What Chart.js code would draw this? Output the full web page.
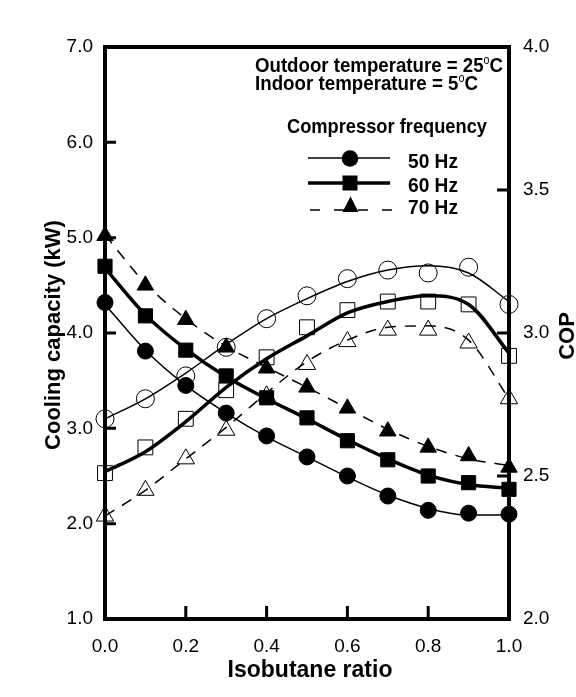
<!DOCTYPE html>
<html>
<head>
<meta charset="utf-8">
<script src="https://cdn.jsdelivr.net/npm/chart.js@4.4.0/dist/chart.umd.min.js"></script>
<style>
html,body{margin:0;padding:0;background:#fff;}
#wrap{width:576px;height:697px;position:relative;}
</style>
</head>
<body>
<div id="wrap"><canvas id="c"></canvas></div>
<script>
// ---- data ----
const ratio = [0.0, 0.1, 0.2, 0.3, 0.4, 0.5, 0.6, 0.7, 0.8, 0.9, 1.0];

// Cooling capacity (kW), measured points (filled markers, left axis)
const cap50 = [4.32, 3.81, 3.45, 3.16, 2.92, 2.70, 2.50, 2.29, 2.14, 2.11, 2.10];
const cap60 = [4.70, 4.18, 3.82, 3.55, 3.32, 3.11, 2.87, 2.67, 2.50, 2.43, 2.36];
const cap70 = [5.02, 4.50, 4.14, 3.85, 3.63, 3.43, 3.21, 2.97, 2.80, 2.71, 2.59];

// COP, measured points (open markers, right axis)
const cop50 = [2.70, 2.77, 2.85, 2.95, 3.05, 3.13, 3.19, 3.22, 3.21, 3.23, 3.10];
const cop60 = [2.51, 2.60, 2.70, 2.80, 2.915, 3.02, 3.08, 3.11, 3.11, 3.10, 2.92];
const cop70 = [2.36, 2.45, 2.56, 2.66, 2.78, 2.89, 2.97, 3.01, 3.01, 2.965, 2.77];

// Fitted curves
const cap50Fit = [4.30, 3.82, 3.45, 3.16, 2.91, 2.70, 2.49, 2.30, 2.16, 2.09, 2.09];
const cap60Fit = [4.68, 4.19, 3.83, 3.54, 3.31, 3.10, 2.88, 2.68, 2.51, 2.41, 2.37];
const cap70Fit = [5.03, 4.52, 4.15, 3.86, 3.64, 3.43, 3.21, 2.99, 2.81, 2.68, 2.61];
const cop50Fit = [2.70, 2.77, 2.86, 2.96, 3.05, 3.12, 3.18, 3.22, 3.235, 3.21, 3.11];
const cop60Fit = [2.515, 2.585, 2.69, 2.81, 2.91, 2.99, 3.07, 3.11, 3.13, 3.10, 2.93];
const cop70Fit = [2.36, 2.45, 2.56, 2.67, 2.79, 2.90, 2.975, 3.02, 3.025, 2.975, 2.77];

const freqLabels = ['50 Hz', '60 Hz', '70 Hz'];
const xTitle = 'Isobutane ratio';
const yTitle = 'Cooling capacity (kW)';
const y2Title = 'COP';

// ---- chart ----
const FONT = 'Liberation Sans, Arial, Helvetica, sans-serif';
const pts = arr => ratio.map((x, i) => ({x: x, y: arr[i]}));

function curve(arr, axis, width, dash) {
  return {data: pts(arr), yAxisID: axis, borderColor: '#000', borderWidth: width,
    borderDash: dash || [], pointRadius: 0, fill: false, cubicInterpolationMode: 'monotone', clip: false};
}
function marks(arr, axis, style, r, filled) {
  return {data: pts(arr), yAxisID: axis, showLine: false, pointStyle: style, pointRadius: r,
    pointBackgroundColor: filled ? '#000' : 'rgba(0,0,0,0)', pointBorderColor: '#000',
    pointBorderWidth: 1, clip: false};
}

const datasets = [
  curve(cap50Fit, 'y', 1.5), curve(cap60Fit, 'y', 3.5), curve(cap70Fit, 'y', 1.5, [11, 9]),
  curve(cop50Fit, 'y2', 1.5), curve(cop60Fit, 'y2', 3.5), curve(cop70Fit, 'y2', 1.5, [11, 9]),
  marks(cop50, 'y2', 'circle', 9, false), marks(cop60, 'y2', 'rect', 10.5, false), marks(cop70, 'y2', 'triangle', 10, false),
  marks(cap50, 'y', 'circle', 8, true), marks(cap60, 'y', 'rect', 10, true), marks(cap70, 'y', 'triangle', 9.5, true)
];

function scaledText(ctx, pieces, x, baseline, targetW) {
  // pieces: [{t, font, dy}]
  let w = 0;
  pieces.forEach(p => { ctx.font = p.font; w += ctx.measureText(p.t).width; });
  const sx = targetW ? targetW / w : 1;
  ctx.save();
  ctx.translate(x, baseline);
  ctx.scale(sx, 1);
  let cx = 0;
  ctx.textAlign = 'left';
  ctx.textBaseline = 'alphabetic';
  pieces.forEach(p => { ctx.font = p.font; ctx.fillText(p.t, cx, p.dy || 0); cx += ctx.measureText(p.t).width; });
  ctx.restore();
}

const framePlugin = {
  id: 'frame',
  beforeDatasetsDraw(chart) {
    const ctx = chart.ctx, a = chart.chartArea;
    const xs = chart.scales.x, ys = chart.scales.y, y2 = chart.scales.y2;
    ctx.save();
    ctx.strokeStyle = '#000';
    ctx.lineWidth = 4;
    ctx.lineCap = 'square';
    ctx.strokeRect(a.left, a.top, a.right - a.left, a.bottom - a.top);
    ctx.lineWidth = 3;
    ctx.lineCap = 'butt';
    ctx.beginPath();
    ys.ticks.forEach(t => {
      if (t.value <= ys.min || t.value >= ys.max) return;
      const py = ys.getPixelForValue(t.value);
      ctx.moveTo(a.left, py); ctx.lineTo(a.left + 11, py);
    });
    y2.ticks.forEach(t => {
      if (t.value <= y2.min || t.value >= y2.max) return;
      const py = y2.getPixelForValue(t.value);
      ctx.moveTo(a.right, py); ctx.lineTo(a.right - 12, py);
    });
    xs.ticks.forEach(t => {
      if (t.value <= xs.min + 1e-9 || t.value >= xs.max - 1e-9) return;
      const px = xs.getPixelForValue(t.value);
      ctx.moveTo(px, a.bottom); ctx.lineTo(px, a.bottom - 13);
    });
    ctx.stroke();
    ctx.restore();
  },
  afterDraw(chart) {
    const ctx = chart.ctx, a = chart.chartArea;
    ctx.save();
    ctx.fillStyle = '#000';
    // axis titles
    ctx.font = 'bold 23px ' + FONT;
    ctx.textAlign = 'center';
    ctx.textBaseline = 'alphabetic';
    ctx.fillText(xTitle, (a.left + a.right) / 2 + 3, 677);
    ctx.save();
    ctx.translate(60, 335);
    ctx.rotate(-Math.PI / 2);
    ctx.font = 'bold 22px ' + FONT;
    ctx.fillText(yTitle, 0, 0);
    ctx.restore();
    ctx.save();
    ctx.translate(574, 336);
    ctx.rotate(-Math.PI / 2);
    ctx.font = 'bold 22px ' + FONT;
    ctx.fillText(y2Title, 0, 0);
    ctx.restore();

    // annotations
    const B = 'bold 21px ' + FONT, S = '12px ' + FONT;
    scaledText(ctx, [{t: 'Outdoor temperature = 25', font: B}, {t: 'o', font: S, dy: -8}, {t: 'C', font: B}], 255, 71.5, 248);
    scaledText(ctx, [{t: 'Indoor temperature = 5', font: B}, {t: 'o', font: S, dy: -8}, {t: 'C', font: B}], 255, 90, 223);
    scaledText(ctx, [{t: 'Compressor frequency', font: B}], 287, 133, 200);

    // legend
    const L0 = 308, L1 = 390, MX = 350;
    ctx.strokeStyle = '#000';
    ctx.lineWidth = 1.5;
    ctx.beginPath(); ctx.moveTo(L0, 158); ctx.lineTo(L1, 158); ctx.stroke();
    ctx.beginPath(); ctx.arc(MX, 158.5, 8.3, 0, Math.PI * 2); ctx.fill();
    ctx.lineWidth = 3.5;
    ctx.beginPath(); ctx.moveTo(L0, 183); ctx.lineTo(L1, 183); ctx.stroke();
    ctx.fillRect(MX - 7.5, 175.5, 15, 15);
    ctx.lineWidth = 1.5;
    ctx.setLineDash([10, 14]);
    ctx.beginPath(); ctx.moveTo(L0 + 2, 210); ctx.lineTo(L1 + 2, 210); ctx.stroke();
    ctx.setLineDash([]);
    ctx.beginPath(); ctx.moveTo(MX + 0.5, 196.5); ctx.lineTo(MX - 7.5, 212); ctx.lineTo(MX + 8.5, 212); ctx.closePath(); ctx.fill();
    scaledText(ctx, [{t: freqLabels[0], font: B}], 408, 168, 50);
    scaledText(ctx, [{t: freqLabels[1], font: B}], 408, 192, 50);
    scaledText(ctx, [{t: freqLabels[2], font: B}], 408, 213.5, 50);
    ctx.restore();
  }
};

const tickFont = {family: FONT, size: 19};

new Chart(document.getElementById('c'), {
  type: 'line',
  data: {datasets: datasets},
  options: {
    responsive: true,
    maintainAspectRatio: false,
    animation: false,
    layout: {padding: {top: 47, left: 0, right: 0, bottom: 0}},
    plugins: {legend: {display: false}, tooltip: {enabled: false}},
    scales: {
      x: {
        type: 'linear', position: 'bottom', min: 0, max: 1,
        grid: {display: false, drawTicks: false}, border: {display: false},
        ticks: {stepSize: 0.2, padding: 16, font: tickFont, color: '#000', maxRotation: 0,
          callback: v => v.toFixed(1)},
        afterFit: s => { s.height = 78; }
      },
      y: {
        type: 'linear', position: 'left', min: 1, max: 7,
        grid: {display: false, drawTicks: false}, border: {display: false},
        ticks: {stepSize: 1, padding: 12, font: tickFont, color: '#000', callback: v => v.toFixed(1)},
        afterFit: s => { s.width = 105; }
      },
      y2: {
        type: 'linear', position: 'right', min: 2, max: 4,
        grid: {display: false, drawTicks: false}, border: {display: false},
        ticks: {stepSize: 0.5, padding: 14, font: tickFont, color: '#000', callback: v => v.toFixed(1)},
        afterFit: s => { s.width = 67; }
      }
    }
  },
  plugins: [framePlugin]
});
</script>
</body>
</html>
